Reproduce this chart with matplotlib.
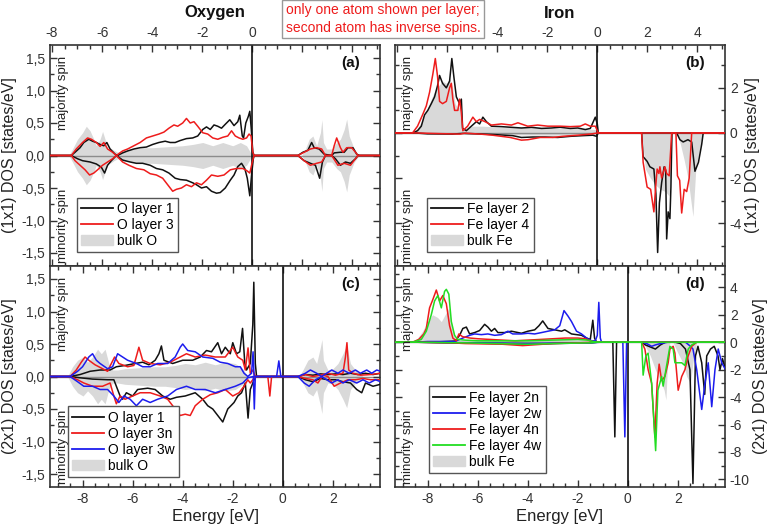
import numpy as np
import matplotlib
matplotlib.use("Agg")
import matplotlib.pyplot as plt
from matplotlib.lines import Line2D
from matplotlib.patches import Patch
from matplotlib.ticker import FixedLocator, FixedFormatter, MultipleLocator, FuncFormatter

plt.rcParams['font.family'] = ['Liberation Sans', 'DejaVu Sans']
plt.rcParams['axes.unicode_minus'] = False

# ---------------- data: (energy [eV], DOS) pairs ----------------
# Panel (a): (1x1) oxygen
o1_up_a = [(-9.3,0),(-8.45,0),(-8.3,0.05),(-8.1,0.12),(-7.95,0.2),(-7.75,0.25),(-7.6,0.22),(-7.45,0.2),(-7.3,0.17),(-7.15,0.15),(-7.03,0.2),(-6.9,0.1),(-6.7,0.02),(-6.6,0.0),(-6.4,0.04),(-6.2,0.07),(-5.95,0.1),(-5.7,0.12),(-5.45,0.13),(-5.2,0.17),(-4.95,0.2),(-4.7,0.22),(-4.5,0.2),(-4.3,0.2),(-4.1,0.23),(-3.85,0.26),(-3.6,0.27),(-3.4,0.3),(-3.2,0.4),(-3.05,0.44),(-2.9,0.4),(-2.75,0.47),(-2.6,0.45),(-2.45,0.42),(-2.3,0.48),(-2.12,0.55),(-1.95,0.46),(-1.8,0.52),(-1.72,0.62),(-1.62,0.3),(-1.57,0.27),(-1.48,0.5),(-1.38,0.6),(-1.32,0.68),(-1.26,0.4),(-1.2,0.05),(-1.15,0),(0.6,0),(0.8,0.05),(1.0,0.08),(1.15,0.2),(1.25,0.12),(1.45,0.1),(1.65,0.02),(1.95,0),(2.05,0.04),(2.3,0.05),(2.45,0.05),(2.6,0.12),(2.8,0.12),(2.95,0.02),(3.05,0),(3.9,0)]
o1_dn_a = [(-9.3,0),(-8.45,0),(-8.2,-0.05),(-8.0,-0.08),(-7.7,-0.1),(-7.45,-0.13),(-7.25,-0.18),(-7.12,-0.27),(-7.0,-0.15),(-6.85,-0.08),(-6.65,0),(-6.4,-0.07),(-6.1,-0.1),(-5.85,-0.12),(-5.6,-0.12),(-5.3,-0.15),(-5.05,-0.2),(-4.8,-0.22),(-4.55,-0.27),(-4.3,-0.35),(-4.1,-0.37),(-3.85,-0.38),(-3.6,-0.42),(-3.45,-0.45),(-3.25,-0.5),(-3.05,-0.48),(-2.85,-0.55),(-2.65,-0.58),(-2.5,-0.57),(-2.3,-0.5),(-2.1,-0.38),(-1.95,-0.3),(-1.8,-0.17),(-1.65,-0.12),(-1.52,-0.2),(-1.42,-0.35),(-1.32,-0.62),(-1.25,-0.3),(-1.18,-0.05),(-1.15,0),(0.6,0),(0.85,-0.08),(1.1,-0.12),(1.3,-0.15),(1.47,-0.35),(1.58,-0.1),(1.7,0),(1.95,0),(2.1,-0.05),(2.3,-0.15),(2.5,-0.1),(2.7,-0.12),(2.9,-0.05),(3.0,0),(3.9,0)]
o3_up_a = [(-9.3,0),(-8.45,0),(-8.25,0.1),(-8.0,0.2),(-7.8,0.27),(-7.65,0.25),(-7.45,0.2),(-7.3,0.14),(-7.15,0.2),(-7.0,0.1),(-6.8,0.05),(-6.65,0),(-6.4,0.07),(-6.2,0.1),(-5.95,0.15),(-5.7,0.2),(-5.45,0.27),(-5.2,0.3),(-4.95,0.33),(-4.75,0.36),(-4.55,0.42),(-4.35,0.47),(-4.2,0.45),(-4.0,0.5),(-3.85,0.57),(-3.7,0.5),(-3.55,0.52),(-3.4,0.45),(-3.2,0.35),(-3.0,0.33),(-2.8,0.27),(-2.6,0.25),(-2.4,0.28),(-2.2,0.3),(-2.05,0.38),(-1.9,0.3),(-1.75,0.27),(-1.6,0.25),(-1.45,0.27),(-1.35,0.33),(-1.27,0.3),(-1.2,0.05),(-1.15,0),(0.6,0),(0.85,0.05),(1.1,0.1),(1.35,0.12),(1.55,0.1),(1.7,0),(1.95,0),(2.05,0.15),(2.15,0.27),(2.3,0.12),(2.4,0.05),(2.55,0.12),(2.75,0.12),(2.9,0.05),(3.0,0),(3.9,0)]
o3_dn_a = [(-9.3,0),(-8.45,0),(-8.3,-0.08),(-8.1,-0.15),(-7.9,-0.22),(-7.72,-0.3),(-7.55,-0.27),(-7.4,-0.22),(-7.2,-0.15),(-7.0,-0.1),(-6.8,-0.05),(-6.65,0),(-6.4,-0.1),(-6.15,-0.15),(-5.85,-0.2),(-5.55,-0.22),(-5.3,-0.28),(-5.05,-0.3),(-4.8,-0.35),(-4.6,-0.45),(-4.4,-0.55),(-4.25,-0.52),(-4.05,-0.5),(-3.85,-0.45),(-3.65,-0.48),(-3.45,-0.42),(-3.25,-0.45),(-3.05,-0.38),(-2.85,-0.3),(-2.6,-0.32),(-2.35,-0.3),(-2.1,-0.22),(-1.85,-0.2),(-1.6,-0.2),(-1.45,-0.23),(-1.32,-0.27),(-1.22,-0.1),(-1.15,0),(0.6,0),(0.85,-0.08),(1.1,-0.15),(1.35,-0.12),(1.55,-0.1),(1.7,0),(1.95,0),(2.2,-0.15),(2.45,-0.12),(2.7,-0.15),(2.9,-0.05),(3.0,0),(3.9,0)]
bulk_o_a = [(-9.3,0),(-8.55,0),(-8.4,0.1),(-8.2,0.25),(-8.0,0.35),(-7.85,0.45),(-7.7,0.38),(-7.55,0.25),(-7.45,0.15),(-7.3,0.25),(-7.2,0.37),(-7.1,0.25),(-7.0,0.1),(-6.9,0.12),(-6.75,0.08),(-6.6,0.05),(-6.4,0.08),(-6.0,0.1),(-5.6,0.12),(-5.2,0.12),(-4.8,0.13),(-4.4,0.14),(-4.0,0.15),(-3.6,0.17),(-3.2,0.2),(-2.8,0.15),(-2.4,0.2),(-2.0,0.15),(-1.7,0.2),(-1.45,0.15),(-1.3,0.05),(-1.25,0),(0.75,0),(0.9,0.1),(1.05,0.25),(1.2,0.3),(1.35,0.15),(1.5,0.35),(1.56,0.55),(1.62,0.2),(1.75,0.1),(1.95,0.1),(2.15,0.2),(2.3,0.25),(2.45,0.4),(2.55,0.56),(2.65,0.3),(2.85,0.1),(3.05,0),(3.9,0)]

# Panel (c): (2x1) oxygen
o1_up_c = [(-9.3,0),(-8.5,0),(-8.1,0.03),(-7.7,0.08),(-7.3,0.1),(-6.9,0.1),(-6.65,0.15),(-6.3,0.17),(-5.9,0.2),(-5.6,0.22),(-5.35,0.18),(-5.1,0.25),(-4.95,0.35),(-4.85,0.47),(-4.75,0.25),(-4.4,0.2),(-4.0,0.25),(-3.6,0.25),(-3.3,0.3),(-3.05,0.4),(-2.85,0.38),(-2.6,0.52),(-2.45,0.35),(-2.3,0.45),(-2.1,0.35),(-2.0,0.52),(-1.85,0.35),(-1.72,0.38),(-1.61,0.74),(-1.52,0.2),(-1.45,0.1),(-1.3,0.2),(-1.2,0.8),(-1.16,1.45),(-1.1,0.2),(-1.05,0),(0.6,0),(0.9,0.03),(1.2,0.02),(1.5,0.04),(1.8,0.03),(2.1,0.04),(2.4,0.03),(2.7,0.05),(3.0,0.03),(3.3,0.05),(3.6,0.03),(3.9,0.05)]
o1_dn_c = [(-9.3,0),(-8.5,0),(-8.1,-0.02),(-7.6,-0.04),(-7.0,-0.05),(-6.75,-0.05),(-6.6,-0.2),(-6.5,-0.3),(-6.4,-0.35),(-6.25,-0.25),(-6.0,-0.3),(-5.8,-0.2),(-5.4,-0.18),(-5.1,-0.2),(-4.8,-0.3),(-4.5,-0.35),(-4.25,-0.32),(-3.9,-0.3),(-3.5,-0.25),(-3.2,-0.35),(-3.0,-0.45),(-2.8,-0.5),(-2.6,-0.6),(-2.4,-0.7),(-2.2,-0.5),(-1.95,-0.4),(-1.8,-0.3),(-1.65,-0.25),(-1.5,-0.1),(-1.39,-0.64),(-1.3,-0.2),(-1.2,-0.1),(-1.1,0),(0.6,0),(0.9,-0.05),(1.2,-0.08),(1.5,-0.03),(1.8,-0.05),(2.1,-0.05),(2.4,-0.08),(2.7,-0.1),(2.95,-0.2),(3.15,-0.25),(3.3,-0.1),(3.6,-0.15),(3.9,-0.12)]
o3n_up_c = [(-9.3,0),(-8.5,0),(-8.25,0.1),(-8.05,0.22),(-7.9,0.3),(-7.75,0.25),(-7.5,0.18),(-7.2,0.12),(-7.0,0.08),(-6.85,0.2),(-6.72,0.3),(-6.55,0.2),(-6.2,0.15),(-5.95,0.17),(-5.75,0.45),(-5.6,0.25),(-5.3,0.2),(-4.9,0.18),(-4.5,0.22),(-4.2,0.28),(-3.85,0.35),(-3.5,0.3),(-3.1,0.33),(-2.7,0.3),(-2.3,0.3),(-2.0,0.45),(-1.8,0.3),(-1.6,0.25),(-1.5,0.1),(-1.39,0.44),(-1.3,0.05),(-1.2,0.1),(-1.1,0),(0.6,0),(0.9,0.03),(1.2,0.0),(1.5,0.02),(1.8,0.05),(2.1,0.02),(2.4,0.05),(2.5,0.3),(2.56,0.52),(2.63,0.1),(2.8,0.05),(3.1,0.02),(3.5,0.03),(3.9,0.05)]
o3n_dn_c = [(-9.3,0),(-8.5,0),(-8.2,-0.05),(-7.95,-0.1),(-7.6,-0.15),(-7.2,-0.15),(-6.9,-0.1),(-6.75,-0.3),(-6.65,-0.42),(-6.5,-0.3),(-6.3,-0.35),(-6.0,-0.3),(-5.7,-0.25),(-5.3,-0.25),(-4.9,-0.3),(-4.6,-0.35),(-4.3,-0.5),(-4.1,-0.6),(-3.9,-0.58),(-3.7,-0.6),(-3.5,-0.45),(-3.2,-0.35),(-2.9,-0.28),(-2.6,-0.25),(-2.3,-0.2),(-2.0,-0.3),(-1.75,-0.25),(-1.55,-0.15),(-1.4,-0.05),(-1.3,-0.1),(-1.1,0),(-0.6,0),(-0.52,-0.3),(-0.45,0),(0.6,0),(0.9,-0.03),(1.2,-0.05),(1.4,-0.1),(1.6,0.02),(1.8,0.0),(2.05,-0.15),(2.3,-0.1),(2.6,-0.05),(2.9,-0.05),(3.2,-0.03),(3.5,-0.05),(3.9,-0.05)]
o3w_up_c = [(-9.3,0),(-8.5,0),(-8.2,0.08),(-8.0,0.15),(-7.75,0.3),(-7.6,0.35),(-7.45,0.25),(-7.3,0.2),(-7.0,0.12),(-6.8,0.15),(-6.6,0.35),(-6.4,0.3),(-6.2,0.25),(-5.85,0.2),(-5.6,0.15),(-5.3,0.15),(-5.0,0.2),(-4.6,0.2),(-4.3,0.3),(-4.1,0.45),(-4.0,0.5),(-3.8,0.4),(-3.5,0.38),(-3.2,0.3),(-2.8,0.28),(-2.5,0.22),(-2.2,0.2),(-1.9,0.15),(-1.7,0.15),(-1.55,0.05),(-1.4,0.0),(-1.25,0.05),(-1.19,0.38),(-1.15,0.0),(-1.1,0),(-0.25,0),(-0.16,0.24),(-0.08,0),(0.6,0),(0.9,0.05),(1.1,0.1),(1.35,0.05),(1.55,0),(1.75,0.05),(1.95,0.1),(2.2,0.05),(2.4,0.1),(2.65,0.05),(2.9,0.1),(3.1,0.05),(3.35,0.1),(3.55,0.05),(3.75,0.1),(3.9,0.08)]
o3w_dn_c = [(-9.3,0),(-8.5,0),(-8.2,-0.08),(-7.95,-0.15),(-7.6,-0.15),(-7.3,-0.2),(-7.0,-0.2),(-6.75,-0.3),(-6.55,-0.4),(-6.35,-0.3),(-6.1,-0.35),(-5.85,-0.45),(-5.6,-0.35),(-5.3,-0.4),(-5.0,-0.35),(-4.6,-0.3),(-4.25,-0.2),(-3.85,-0.15),(-3.5,-0.2),(-3.1,-0.2),(-2.7,-0.25),(-2.3,-0.2),(-1.9,-0.15),(-1.6,-0.1),(-1.4,-0.02),(-1.18,0),(-1.14,-0.5),(-1.1,0),(0.6,0),(0.85,-0.1),(1.05,-0.15),(1.3,-0.05),(1.55,0),(1.75,-0.05),(1.95,-0.1),(2.2,-0.05),(2.4,-0.1),(2.65,-0.05),(2.95,-0.1),(3.2,-0.05),(3.45,-0.1),(3.7,-0.05),(3.9,-0.08)]
bulk_o_c = [(-9.3,0),(-8.6,0),(-8.4,0.15),(-8.2,0.25),(-7.98,0.3),(-7.8,0.22),(-7.6,0.3),(-7.4,0.42),(-7.25,0.35),(-7.1,0.42),(-6.95,0.2),(-6.8,0.1),(-6.6,0.1),(-6.3,0.12),(-5.9,0.13),(-5.5,0.14),(-5.1,0.15),(-4.7,0.15),(-4.3,0.17),(-3.9,0.2),(-3.5,0.18),(-3.1,0.22),(-2.7,0.18),(-2.3,0.22),(-1.9,0.2),(-1.6,0.12),(-1.45,0.03),(-1.4,0),(0.65,0),(0.8,0.1),(1.0,0.25),(1.2,0.3),(1.35,0.2),(1.5,0.45),(1.56,0.57),(1.62,0.25),(1.8,0.1),(2.0,0.12),(2.2,0.2),(2.4,0.35),(2.55,0.48),(2.7,0.2),(2.9,0.1),(3.2,0),(3.9,0)]

# Panel (b): (1x1) iron
fe2_up_b = [(-9.3,0),(-8.6,0),(-8.4,0.1),(-8.25,0.3),(-8.12,0.8),(-7.99,1.0),(-7.85,1.3),(-7.72,1.6),(-7.6,2.1),(-7.52,2.55),(-7.4,2.2),(-7.25,2.0),(-7.12,2.3),(-7.03,3.3),(-6.95,2.5),(-6.85,1.6),(-6.72,1.3),(-6.65,1.5),(-6.6,0.2),(-6.45,0.1),(-6.25,0.3),(-6.05,0.5),(-5.92,0.4),(-5.79,0.7),(-5.65,0.5),(-5.45,0.3),(-5.05,0.28),(-4.65,0.25),(-4.25,0.22),(-3.85,0.25),(-3.45,0.2),(-3.05,0.22),(-2.7,0.25),(-2.3,0.2),(-2.0,0.22),(-1.7,0.15),(-1.5,0.2),(-1.38,0.5),(-1.3,0.7),(-1.22,0.4),(-1.18,0),(3.9,0)]
fe2_dn_b = [(-9.3,0),(-8.5,0),(-8.0,-0.04),(-7.0,-0.05),(-6.6,-0.02),(-6.0,-0.04),(-5.2,-0.08),(-4.6,-0.12),(-4.25,-0.2),(-3.8,-0.18),(-3.3,-0.18),(-2.8,-0.2),(-2.3,-0.15),(-1.8,-0.12),(-1.4,-0.1),(-1.25,-0.15),(-1.18,0),(0.55,0),(0.61,-1.05),(0.77,-1.26),(0.88,-1.5),(1.04,-1.6),(1.12,-2.7),(1.19,-5.3),(1.26,-3.1),(1.35,-2.2),(1.45,-1.5),(1.51,-1.65),(1.55,-4.7),(1.61,-3.5),(1.68,-3.8),(1.72,-2.4),(1.76,0),(1.95,0),(2.08,-0.3),(2.21,-0.4),(2.4,-0.3),(2.55,-0.4),(2.68,-1.7),(2.82,-1.3),(2.95,-0.5),(3.01,0),(3.9,0)]
fe4_up_b = [(-9.3,0),(-8.6,0),(-8.4,0.3),(-8.2,0.8),(-8.05,1.2),(-7.92,1.8),(-7.79,2.6),(-7.69,3.3),(-7.6,2.5),(-7.52,1.4),(-7.4,1.3),(-7.25,1.4),(-7.12,2.0),(-7.05,2.2),(-6.99,1.5),(-6.92,1.0),(-6.79,1.0),(-6.72,1.5),(-6.65,0.9),(-6.59,0.1),(-6.4,0.3),(-6.19,0.7),(-6.05,0.5),(-5.92,0.6),(-5.7,0.5),(-5.45,0.35),(-5.05,0.4),(-4.65,0.35),(-4.39,0.45),(-4.0,0.3),(-3.6,0.35),(-3.2,0.3),(-2.7,0.3),(-2.3,0.28),(-1.9,0.3),(-1.7,0.4),(-1.5,0.3),(-1.3,0.3),(-1.22,0.1),(-1.18,0),(3.9,0)]
fe4_dn_b = [(-9.3,0),(-8.5,0),(-7.5,-0.03),(-6.7,-0.05),(-6.5,-0.01),(-5.9,-0.05),(-5.4,-0.1),(-4.7,-0.2),(-4.25,-0.32),(-3.99,-0.3),(-3.5,-0.2),(-3.0,-0.2),(-2.6,-0.15),(-2.0,-0.1),(-1.5,-0.05),(-1.2,0),(0.55,0),(0.61,-1.3),(0.77,-2.4),(0.91,-2.5),(1.04,-3.5),(1.11,-2.4),(1.17,-1.6),(1.24,-1.8),(1.28,-1.5),(1.35,-2.0),(1.48,-1.5),(1.55,-1.8),(1.65,-1.9),(1.75,0),(1.92,0),(1.98,-1.9),(2.07,-2.1),(2.15,-3.55),(2.25,-2.5),(2.35,-2.6),(2.45,-2.0),(2.55,0),(3.9,0)]
bulk_fe_up_b = [(-9.3,0),(-8.55,0),(-8.35,0.3),(-8.15,0.7),(-8.0,1.1),(-7.85,1.5),(-7.7,1.9),(-7.55,2.1),(-7.4,2.3),(-7.25,2.2),(-7.1,2.4),(-7.0,2.0),(-6.9,1.3),(-6.8,1.1),(-6.65,1.2),(-6.6,0.15),(-6.2,0.3),(-5.8,0.3),(-5.0,0.25),(-4.0,0.25),(-3.0,0.2),(-2.0,0.2),(-1.3,0.15),(-1.2,0),(3.9,0)]
bulk_fe_dn_b = [(-9.3,0),(-6.6,0),(-6.5,-0.05),(-5.0,-0.08),(-3.0,-0.1),(-1.3,-0.08),(-1.2,0),(0.55,0),(0.6,-0.5),(0.7,-1.6),(0.9,-2.0),(1.1,-2.3),(1.3,-2.5),(1.5,-2.6),(1.65,-2.8),(1.72,-1.5),(1.78,0),(1.95,0),(2.1,-0.5),(2.25,-1.2),(2.4,-2.0),(2.6,-3.7),(2.72,-1.5),(2.85,-0.8),(3.0,0),(3.9,0)]

# Panel (d): (2x1) iron
fe2n_up_d = [(-9.3,0),(-8.5,0),(-7.5,0.03),(-6.9,0.08),(-6.72,0.5),(-6.59,1.0),(-6.45,1.1),(-6.32,0.6),(-6.12,0.7),(-5.92,0.85),(-5.72,1.3),(-5.59,1.1),(-5.45,0.8),(-5.32,1.0),(-5.19,0.7),(-4.92,0.7),(-4.65,0.8),(-4.25,0.65),(-3.99,0.8),(-3.72,0.9),(-3.55,1.2),(-3.4,1.55),(-3.19,1.0),(-2.92,0.9),(-2.65,0.8),(-2.52,0.9),(-2.25,0.6),(-1.85,0.5),(-1.65,0.3),(-1.5,0.2),(-1.4,1.6),(-1.33,0.3),(-1.25,0),(3.9,0)]
fe2n_dn_d = [(-9.3,0),(-8.5,0),(-7.0,-0.05),(-5.0,-0.1),(-4.0,-0.15),(-3.0,-0.1),(-1.5,-0.05),(-1.2,0),(-0.6,0),(-0.52,-6.9),(-0.45,0),(0.55,0),(0.7,-0.2),(0.9,-0.35),(1.1,-0.5),(1.3,-0.2),(1.5,0),(1.9,0),(2.1,-0.1),(2.3,-0.5),(2.48,-2.0),(2.6,-10.3),(2.7,-1.0),(2.8,-0.3),(2.95,-1.5),(3.07,-3.8),(3.15,-1.0),(3.3,-0.5),(3.45,-0.3),(3.6,-1.0),(3.68,-2.0),(3.78,-1.2),(3.9,-2.0)]
fe2w_up_d = [(-9.3,0),(-8.5,0),(-8.0,0.05),(-7.2,0.05),(-6.9,0.05),(-6.72,0.2),(-6.59,0.3),(-6.32,0.5),(-6.12,0.6),(-5.85,0.55),(-5.59,0.6),(-5.32,0.5),(-5.05,0.55),(-4.79,0.8),(-4.6,0.6),(-4.25,0.6),(-3.99,0.65),(-3.72,0.6),(-3.45,0.7),(-3.19,0.8),(-2.92,0.9),(-2.72,1.2),(-2.55,2.3),(-2.39,1.9),(-2.25,1.5),(-2.05,0.8),(-1.85,0.6),(-1.65,0.3),(-1.45,0.1),(-1.3,0.1),(-1.22,0.5),(-1.16,2.9),(-1.1,0.3),(-1.05,0),(3.9,0)]
fe2w_dn_d = [(-9.3,0),(-8.5,0),(-7.0,-0.03),(-5.0,-0.08),(-4.0,-0.1),(-3.0,-0.08),(-1.5,-0.05),(-1.1,0),(-0.2,0),(-0.12,-6.9),(-0.05,0),(0.55,0),(0.75,-0.1),(0.95,-0.3),(1.1,-0.2),(1.3,-0.1),(1.6,0),(2.3,0),(2.5,-0.3),(2.6,-0.5),(2.75,-2.0),(2.95,-4.9),(3.08,-3.0),(3.21,-1.5),(3.35,-4.7),(3.48,-2.0),(3.61,-0.5),(3.75,-1.5),(3.9,-2.0)]
fe4n_up_d = [(-9.3,0),(-8.6,0),(-8.35,0.2),(-8.15,0.6),(-8.05,1.0),(-7.92,2.5),(-7.79,3.1),(-7.65,3.8),(-7.52,3.0),(-7.39,3.4),(-7.25,2.8),(-7.12,1.2),(-6.99,0.3),(-6.85,0.1),(-6.75,0.6),(-6.6,0.4),(-6.3,0.3),(-6.0,0.25),(-5.5,0.2),(-5.0,0.15),(-4.5,0.1),(-4.0,0.15),(-3.5,0.2),(-3.0,0.25),(-2.5,0.3),(-2.0,0.3),(-1.7,0.25),(-1.5,0.1),(-1.3,0),(3.9,0)]
fe4n_dn_d = [(-9.3,0),(-8.5,0),(-7.0,-0.05),(-6.5,-0.1),(-5.0,-0.15),(-4.2,-0.25),(-3.8,-0.2),(-3.0,-0.1),(-2.0,-0.05),(-1.3,0),(0.55,0),(0.68,-0.5),(0.81,-2.0),(0.95,-3.0),(1.08,-6.9),(1.17,-3.0),(1.25,-1.6),(1.35,-2.8),(1.48,-2.5),(1.61,-1.5),(1.68,-0.5),(1.81,-0.3),(1.88,-0.8),(2.01,-3.5),(2.15,-2.5),(2.28,-2.0),(2.41,-1.0),(2.55,-0.3),(2.75,0),(3.9,0)]
fe4w_up_d = [(-9.3,0),(-8.6,0),(-8.25,0.2),(-8.05,0.8),(-7.85,2.0),(-7.72,3.0),(-7.59,3.4),(-7.45,2.5),(-7.32,3.7),(-7.25,3.85),(-7.15,3.5),(-7.05,1.5),(-6.92,0.5),(-6.8,0.2),(-6.5,0.15),(-6.0,0.1),(-5.0,0.1),(-4.0,0.1),(-3.0,0.15),(-2.0,0.2),(-1.6,0.15),(-1.4,0.05),(-1.2,0),(3.9,0)]
fe4w_dn_d = [(-9.3,0),(-8.5,0),(-6.5,-0.05),(-4.0,-0.15),(-3.0,-0.1),(-1.5,-0.05),(-1.2,0),(0.55,0),(0.61,-2.4),(0.72,-1.0),(0.81,-0.8),(0.95,-3.0),(1.11,-7.9),(1.2,-3.5),(1.35,-2.5),(1.41,-3.2),(1.52,-2.0),(1.68,-0.3),(1.81,-0.5),(1.88,-1.5),(2.01,-1.5),(2.15,-1.5),(2.28,-1.7),(2.41,-0.5),(2.55,-0.2),(2.75,0),(3.9,0)]
bulk_fe_up_d = [(-9.3,0),(-8.6,0),(-8.4,0.3),(-8.2,0.8),(-8.0,1.5),(-7.8,2.0),(-7.6,1.8),(-7.45,1.5),(-7.3,2.0),(-7.15,2.5),(-7.0,1.0),(-6.9,0.3),(-6.85,0.1),(-6.5,0.2),(-5.0,0.2),(-3.0,0.25),(-1.6,0.2),(-1.4,0),(3.9,0)]
bulk_fe_dn_d = [(-9.3,0),(-6.8,0),(-6.5,-0.05),(-4.0,-0.1),(-1.5,-0.05),(-1.4,0),(0.55,0),(0.7,-0.3),(0.9,-1.0),(1.1,-2.0),(1.3,-2.8),(1.45,-3.5),(1.52,-4.2),(1.6,-1.0),(1.68,0),(1.8,0),(2.0,-0.8),(2.2,-1.5),(2.35,-2.5),(2.5,-3.0),(2.6,-1.5),(2.75,0),(3.9,0)]

# top axis tick labels (those hidden behind the note box are left out)
top_ticks = [-8, -6, -4, -2, 0, 2, 4]
top_labels_oxygen = ['-8', '-6', '-4', '-2', '0', '', '']
top_labels_iron = ['', '', '-4', '-2', '0', '2', '4']
top_offset = 1.22   # top axis energy = bottom energy + offset
legend_a = ["O layer 1", "O layer 3", "bulk O"]
legend_b = ["Fe layer 2", "Fe layer 4", "bulk Fe"]
legend_c = ["O layer 1", "O layer 3n", "O layer 3w", "bulk O"]
legend_d = ["Fe layer 2n", "Fe layer 2w", "Fe layer 4n", "Fe layer 4w", "bulk Fe"]

BLACK = '#111111'; RED = '#ee1c1c'; BLUE = '#1c1cee'; GREEN = '#22dd22'; GRAY = '#d9d9d9'


def xy(pts):
    a = np.asarray(pts, dtype=float)
    return a[:, 0], a[:, 1]


fig = plt.figure(figsize=(7.71, 5.29), dpi=100)
W, H = 771.0, 529.0

def axes_px(x0, y0, x1, y1):
    return fig.add_axes([x0 / W, 1 - y1 / H, (x1 - x0) / W, (y1 - y0) / H])

ax_a = axes_px(50, 45, 380, 266)
ax_b = axes_px(395, 45, 725, 266)
ax_c = axes_px(50, 266, 380, 487)
ax_d = axes_px(395, 266, 725, 487)

comma = FuncFormatter(lambda v, p: ('%.1f' % v).replace('.', ','))

for ax in (ax_a, ax_b, ax_c, ax_d):
    ax.set_xlim(-9.3, 3.88)
    for s in ax.spines.values():
        s.set_color('#333333'); s.set_linewidth(1.2)
    ax.tick_params(which='both', direction='in', top=True, bottom=True, left=True, right=True,
                   labelsize=10.5, colors='#333333', labelcolor='#333333')
    ax.tick_params(which='major', length=5, width=1)
    ax.tick_params(which='minor', length=3, width=1)
    ax.axhline(0, color='#8c8c8c', lw=1.0, zorder=1.5)

# top panels: tick labels on top in shifted energy scale
for ax, labs in ((ax_a, top_labels_oxygen), (ax_b, top_labels_iron)):
    ax.xaxis.set_major_locator(FixedLocator([t - top_offset for t in top_ticks]))
    ax.xaxis.set_major_formatter(FixedFormatter(labs))
    ax.xaxis.set_minor_locator(FixedLocator(list(np.arange(-10, 6, 0.5) - top_offset)))
    ax.tick_params(labeltop=True, labelbottom=False)
    ax.axvline(-top_offset, color=BLACK, lw=1.2, zorder=2)

for ax in (ax_c, ax_d):
    ax.xaxis.set_major_locator(MultipleLocator(2))
    ax.xaxis.set_minor_locator(MultipleLocator(0.5))
    ax.tick_params(labeltop=False, labelbottom=True)
    ax.set_xlabel('Energy [eV]', fontsize=12, color='#222222', labelpad=2)
    ax.axvline(0, color=BLACK, lw=1.2, zorder=2)

for ax in (ax_a, ax_c):
    ax.set_ylim(-1.7, 1.7)
    ax.yaxis.set_major_locator(MultipleLocator(0.5))
    ax.yaxis.set_minor_locator(MultipleLocator(0.25))
    ax.yaxis.set_major_formatter(comma)
    ax.tick_params(labelleft=True, labelright=False, labelsize=10)

for ax in (ax_b, ax_d):
    ax.yaxis.set_major_locator(MultipleLocator(2))
    ax.yaxis.set_minor_locator(MultipleLocator(1))
    ax.tick_params(labelleft=False, labelright=True, labelsize=10)
    ax.yaxis.set_label_position('right')
ax_b.set_ylim(-5.9, 3.9)
ax_d.set_ylim(-10.55, 5.55)

ax_a.set_ylabel('(1x1) DOS [states/eV]', fontsize=11.5, color='#222222', labelpad=3)
ax_c.set_ylabel('(2x1) DOS [states/eV]', fontsize=11.5, color='#222222', labelpad=3)
ax_b.set_ylabel('(1x1) DOS [states/eV]', fontsize=11.5, color='#222222', labelpad=2)
ax_d.set_ylabel('(2x1) DOS [states/eV]', fontsize=11.5, color='#222222', labelpad=2)

lw = 1.1
# (a)
e, v = xy(bulk_o_a); ax_a.fill_between(e, v, -v, color=GRAY, lw=0, zorder=1)
for pts, c in ((o1_up_a, BLACK), (o1_dn_a, BLACK), (o3_up_a, RED), (o3_dn_a, RED)):
    e, v = xy(pts); ax_a.plot(e, v, color=c, lw=lw, zorder=3)
# (c)
e, v = xy(bulk_o_c); ax_c.fill_between(e, v, -v, color=GRAY, lw=0, zorder=1)
for pts, c in ((o1_up_c, BLACK), (o1_dn_c, BLACK), (o3n_up_c, RED), (o3n_dn_c, RED),
               (o3w_up_c, BLUE), (o3w_dn_c, BLUE)):
    e, v = xy(pts); ax_c.plot(e, v, color=c, lw=lw, zorder=3)
# (b)
e, v = xy(bulk_fe_up_b); ax_b.fill_between(e, 0, v, color=GRAY, lw=0, zorder=1)
e, v = xy(bulk_fe_dn_b); ax_b.fill_between(e, v, 0, color=GRAY, lw=0, zorder=1)
for pts, c in ((fe2_up_b, BLACK), (fe2_dn_b, BLACK), (fe4_up_b, RED), (fe4_dn_b, RED)):
    e, v = xy(pts); ax_b.plot(e, v, color=c, lw=lw, zorder=3)
# (d)
e, v = xy(bulk_fe_up_d); ax_d.fill_between(e, 0, v, color=GRAY, lw=0, zorder=1)
e, v = xy(bulk_fe_dn_d); ax_d.fill_between(e, v, 0, color=GRAY, lw=0, zorder=1)
for pts, c in ((fe2n_up_d, BLACK), (fe2n_dn_d, BLACK), (fe2w_up_d, BLUE), (fe2w_dn_d, BLUE),
               (fe4n_up_d, RED), (fe4n_dn_d, RED), (fe4w_up_d, GREEN), (fe4w_dn_d, GREEN)):
    e, v = xy(pts); ax_d.plot(e, v, color=c, lw=lw, zorder=3)

# annotations inside panels
for ax, lab in ((ax_a, '(a)'), (ax_b, '(b)'), (ax_c, '(c)'), (ax_d, '(d)')):
    ax.text(0.91, 0.92, lab, transform=ax.transAxes, fontsize=11, fontweight='bold',
            ha='center', va='center', color='#111111')
    ax.text(0.038, 0.95, 'majority spin', transform=ax.transAxes, rotation=90,
            fontsize=9.5, ha='center', va='top', color='#222222')
    ax.text(0.038, 0.015, 'minority spin', transform=ax.transAxes, rotation=90,
            fontsize=9.5, ha='center', va='bottom', color='#222222')

def make_legend(ax, labels, colors, anchor):
    handles = [Line2D([0], [0], color=c, lw=1.3) for c in colors]
    handles.append(Patch(facecolor=GRAY, edgecolor=GRAY))
    leg = ax.legend(handles, labels, loc='lower left', bbox_to_anchor=anchor,
                    fontsize=10, frameon=True, fancybox=False, framealpha=1,
                    edgecolor='#555555', handlelength=2.3, handletextpad=0.3,
                    labelspacing=0.15, borderpad=0.3, borderaxespad=0)
    leg.get_frame().set_linewidth(1.0)
    leg.set_zorder(5)

make_legend(ax_a, legend_a, [BLACK, RED], (0.082, 0.063))
make_legend(ax_b, legend_b, [BLACK, RED], (0.097, 0.063))
make_legend(ax_c, legend_c, [BLACK, RED, BLUE], (0.055, 0.045))
make_legend(ax_d, legend_d, [BLACK, BLUE, RED, GREEN], (0.103, 0.063))

fig.text(215 / W, 1 - 13 / H, 'Oxygen', fontsize=12, fontweight='bold', ha='center', va='center', color='#111111')
fig.text(560 / W, 1 - 13 / H, 'Iron', fontsize=12, fontweight='bold', ha='center', va='center', color='#111111')
fig.text(383 / W, 1 - 19 / H, 'only one atom shown per layer;\nsecond atom has inverse spins.',
         fontsize=10, color='#ee1c1c', ha='center', va='center', linespacing=1.35, zorder=10,
         bbox=dict(boxstyle='square,pad=0.25', facecolor='white', edgecolor='#999999', lw=1))

fig.savefig('out.png', dpi=100)
